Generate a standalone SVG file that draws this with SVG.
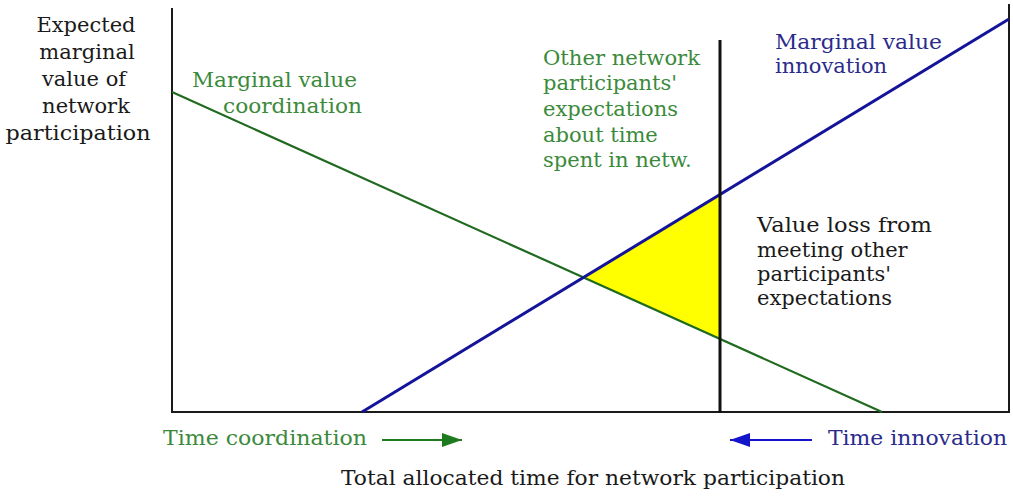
<svg xmlns="http://www.w3.org/2000/svg" width="1013" height="497" viewBox="0 0 1013 497">
<style>
text{font-family:"DejaVu Serif","Liberation Serif",serif;font-size:21px}
.blk{fill:#1a1a1a}
.grn{fill:#3b8a3b}
.blu{fill:#2b2b8c}
.mid{text-anchor:middle}
</style>
<defs>
<marker id="ag" viewBox="0 0 20 14" refX="20" refY="7" markerWidth="20" markerHeight="14" markerUnits="userSpaceOnUse" orient="auto"><path d="M0,0L20,7L0,14z" fill="#1e7a1e"/></marker>
<marker id="ab" viewBox="0 0 20 14" refX="20" refY="7" markerWidth="20" markerHeight="14" markerUnits="userSpaceOnUse" orient="auto"><path d="M0,0L20,7L0,14z" fill="#1414c8"/></marker>
</defs>
<rect width="1013" height="497" fill="#fff"/>
<g id="area">
<polygon points="583.4,277.4 720,194.3 720,339" fill="#ffff00"/>
</g>
<g id="axes" stroke="#1a1a1a" fill="none">
<line x1="172" y1="8" x2="172" y2="412" stroke-width="2"/>
<line x1="171" y1="412" x2="1009" y2="412" stroke-width="2"/>
<line x1="1009" y1="4" x2="1009" y2="413" stroke-width="2"/>
</g>
<g id="connectors" fill="none">
<line x1="172" y1="92" x2="882" y2="412" stroke="#1f6a1f" stroke-width="2.2"/>
<line x1="362" y1="412" x2="1009" y2="19" stroke="#14149a" stroke-width="3"/>
<line x1="720" y1="40" x2="720" y2="413" stroke="#111" stroke-width="3"/>
<line x1="382" y1="440" x2="462" y2="440" stroke="#1e7a1e" stroke-width="2" marker-end="url(#ag)"/>
<line x1="812" y1="440" x2="730" y2="440" stroke="#1414c8" stroke-width="2" marker-end="url(#ab)"/>
</g>
<g id="ylabel" class="blk">
<text x="86" y="32" class="mid">Expected</text>
<text x="87" y="59" class="mid">marginal</text>
<text x="84" y="86" class="mid">value of</text>
<text x="86" y="113" class="mid">network</text>
<text x="78" y="140" class="mid" textLength="145" lengthAdjust="spacingAndGlyphs">participation</text>
</g>
<g id="coord-label" class="grn">
<text x="192" y="87" textLength="165" lengthAdjust="spacingAndGlyphs">Marginal value</text>
<text x="223" y="113" textLength="139" lengthAdjust="spacingAndGlyphs">coordination</text>
</g>
<g id="expect-label" class="grn">
<text x="543" y="65" textLength="157" lengthAdjust="spacingAndGlyphs">Other network</text>
<text x="543" y="90">participants'</text>
<text x="543" y="116">expectations</text>
<text x="543" y="142">about time</text>
<text x="543" y="167">spent in netw.</text>
</g>
<g id="innov-label" class="blu">
<text x="775" y="49" textLength="167" lengthAdjust="spacingAndGlyphs">Marginal value</text>
<text x="775" y="73">innovation</text>
</g>
<g id="loss-label" class="blk">
<text x="757" y="232" textLength="175" lengthAdjust="spacingAndGlyphs">Value loss from</text>
<text x="757" y="257">meeting other</text>
<text x="757" y="281">participants'</text>
<text x="757" y="305">expectations</text>
</g>
<g id="time-coord" class="grn">
<text x="163" y="445" textLength="204" lengthAdjust="spacingAndGlyphs">Time coordination</text>
</g>
<g id="time-innov" class="blu">
<text x="828" y="445" textLength="179" lengthAdjust="spacingAndGlyphs">Time innovation</text>
</g>
<g id="xlabel" class="blk">
<text x="341" y="485" textLength="504" lengthAdjust="spacingAndGlyphs">Total allocated time for network participation</text>
</g>
</svg>
